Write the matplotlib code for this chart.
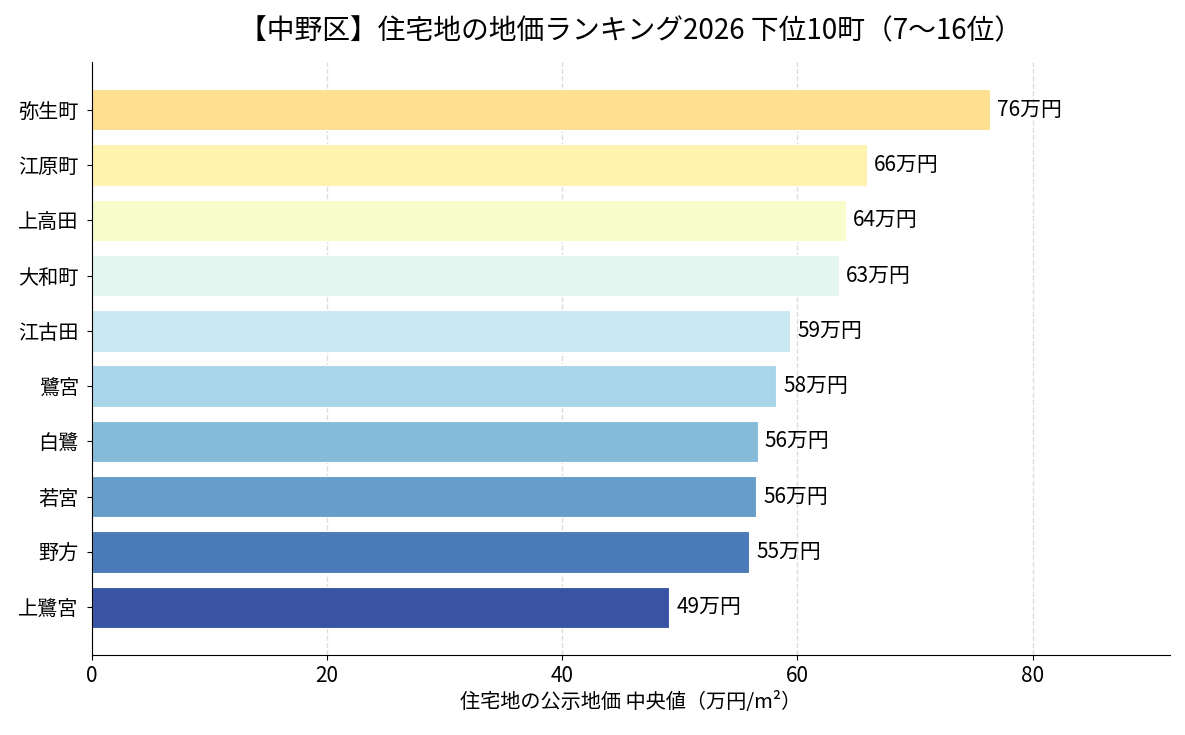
import matplotlib
matplotlib.use("Agg")
import matplotlib.pyplot as plt
import numpy as np

plt.rcParams['font.family'] = ['Noto Sans CJK JP', 'DejaVu Sans']

towns = ["弥生町", "江原町", "上高田", "大和町", "江古田", "鷺宮", "白鷺", "若宮", "野方", "上鷺宮"]
values = [76.4, 65.9, 64.1, 63.5, 59.4, 58.2, 56.6, 56.5, 55.9, 49.1]
labels = ["76万円", "66万円", "64万円", "63万円", "59万円", "58万円", "56万円", "56万円", "55万円", "49万円"]
title = "【中野区】住宅地の地価ランキング2026 下位10町（7〜16位）"
xlabel = "住宅地の公示地価 中央値（万円/m²）"

fig = plt.figure(figsize=(11.85, 7.35), dpi=100)
ax = fig.add_axes([92/1185, 1-655/735, (1170-92)/1185, (655-62)/735])

cmap = plt.get_cmap("RdYlBu")
colors = [cmap(t) for t in np.linspace(0.4, 0.95, len(towns))]
y = np.arange(len(towns))
bars = ax.barh(y, values, height=0.75, color=colors, edgecolor="white", linewidth=0.8, zorder=2)
ax.invert_yaxis()
ax.set_yticks(y)
ax.set_yticklabels(towns, fontsize=14.5)
ax.tick_params(axis='y', pad=6)
ax.set_xlim(0, max(values) * 1.2)
ax.tick_params(axis='x', labelsize=15)
for b, lab in zip(bars, labels):
    ax.text(b.get_width() + 0.6, b.get_y() + b.get_height()/2, lab,
            va='center', ha='left', fontsize=15)
ax.grid(axis='x', linestyle='--', color='#dddddd', linewidth=1, zorder=0)
ax.set_axisbelow(True)
ax.spines['top'].set_visible(False)
ax.spines['right'].set_visible(False)
ax.set_xlabel(xlabel, fontsize=14.5, labelpad=4)
ax.set_title(title, fontsize=20, fontweight='normal', pad=16)

fig.savefig("out.png", dpi=100)
